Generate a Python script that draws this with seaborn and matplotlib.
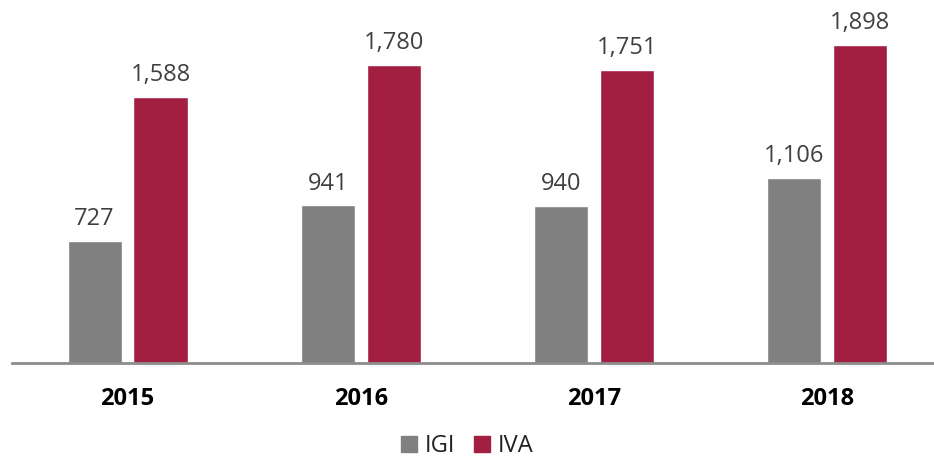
import pandas as pd
import numpy as np
import seaborn as sns
import matplotlib.pyplot as plt
from matplotlib.patches import Patch

# data
years = ['2015', '2016', '2017', '2018']
igi = [727, 941, 940, 1106]
iva = [1588, 1780, 1751, 1898]

df = pd.DataFrame({
    'year': years * 2,
    'value': igi + iva,
    'tax': ['IGI'] * 4 + ['IVA'] * 4,
})

sns.set_theme(style='white')
plt.rcParams['font.family'] = ['Open Sans', 'DejaVu Sans']

colors = {'IGI': '#808080', 'IVA': '#A21F42'}

fig = plt.figure(figsize=(9.34, 4.59), dpi=100)
ax = fig.add_axes([12/934, 96/459, 922/934, 363/459])

sns.barplot(data=df, x='year', y='value', hue='tax', palette=colors,
            width=0.566, gap=0.18, ax=ax, legend=False, saturation=1)

# value labels on top of bars
for c in ax.containers:
    ax.bar_label(c, labels=[format(int(v), ',') for v in c.datavalues],
                 padding=7, fontsize=17, color='#404040')

ax.set_xlim(-0.4957, 3.4593)
ax.set_ylim(0, 2167)
ax.set_xlabel('')
ax.set_ylabel('')
ax.set_yticks([])
for s in ['top', 'right', 'left']:
    ax.spines[s].set_visible(False)
ax.spines['bottom'].set_color('#8c8c8c')
ax.spines['bottom'].set_linewidth(2)
ax.tick_params(axis='x', length=0, pad=17)
for t in ax.get_xticklabels():
    t.set_fontweight('bold')
    t.set_fontsize(17)
    t.set_color('black')

handles = [Patch(color=colors['IGI'], label='IGI'),
           Patch(color=colors['IVA'], label='IVA')]
fig.legend(handles=handles, loc='lower center', ncol=2, frameon=False,
           bbox_to_anchor=(0.5, -0.045), fontsize=17, handlelength=0.7,
           handleheight=0.7, handletextpad=0.3, columnspacing=0.8,
           labelcolor='#222222')

fig.savefig('out.png', dpi=100)
